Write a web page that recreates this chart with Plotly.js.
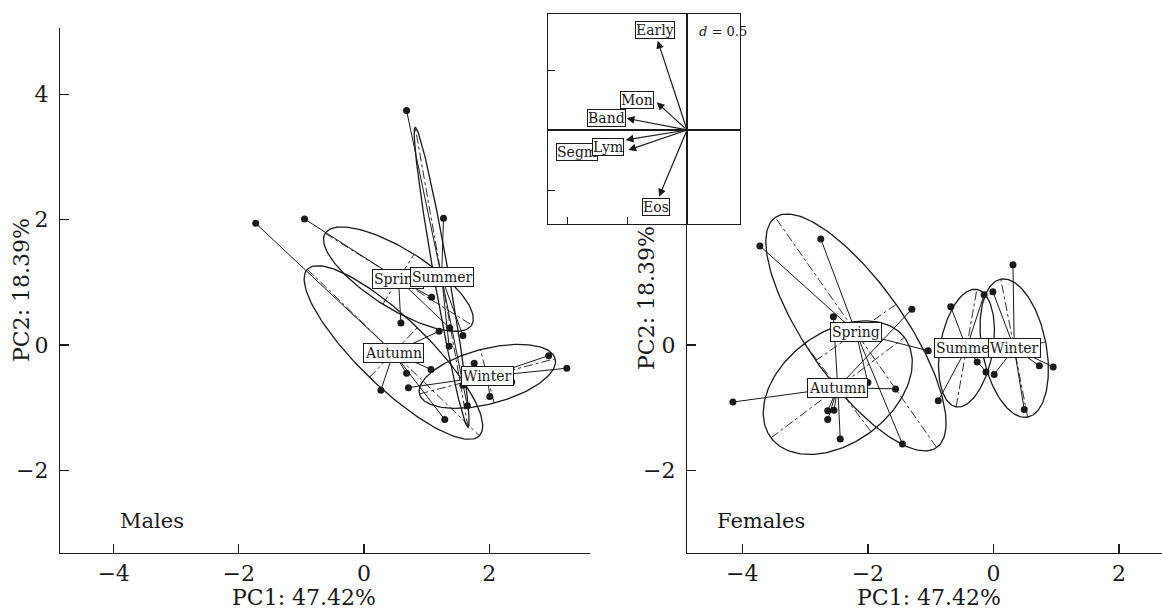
<!DOCTYPE html>
<html><head><meta charset="utf-8">
<script src="https://cdn.plot.ly/plotly-3.0.1.min.js"></script>
<style>html,body{margin:0;padding:0;background:#fff}</style>
</head><body><div id="chart" style="width:1162px;height:610px"></div>
<script>
const seasons = ['Spring', 'Summer', 'Autumn', 'Winter'];

// ---- Males (left panel) ----
const maleX = [-0.95, 1.08, 0.59, 1.37,
               0.68, 1.27, 1.36, 1.58, 1.65,
               -1.73, 0.27, 0.68, 1.07, 1.29, 1.20,
               0.71, 1.76, 1.58, 2.36, 2.01, 2.95, 3.24];
const maleY = [2.01, 0.76, 0.35, 0.27,
               3.74, 2.02, -0.02, 0.15, -0.97,
               1.94, -0.72, -0.45, -0.39, -1.19, 0.22,
               -0.68, -0.29, -0.64, -0.59, -0.82, -0.17, -0.37];
const maleGroup = [0, 0, 0, 0,
                   1, 1, 1, 1, 1,
                   2, 2, 2, 2, 2, 2,
                   3, 3, 3, 3, 3, 3, 3];
const maleCentX = [0.55, 1.24, 0.47, 1.97];
const maleCentY = [1.05, 1.08, -0.12, -0.50];
const maleEllA = [1.38, 2.43, 1.91, 1.12];
const maleEllB = [0.47, 0.12, 0.55, 0.44];
const maleEllAngle = [-32, 100, -44, 14.5];

// ---- Females (right panel) ----
const femX = [-3.72, -2.75, -1.04, -2.00, -1.45,
              -0.68, -0.88, -0.15, -0.26, -0.12,
              -2.55, -1.30, -1.56, -2.64, -2.54, -2.64, -2.44, -4.15,
              -0.01, 0.31, 0.01, 0.73, 0.95, 0.49];
const femY = [1.58, 1.69, -0.09, -0.60, -1.58,
              0.61, -0.89, 0.80, -0.27, -0.43,
              0.45, 0.57, -0.70, -1.05, -1.04, -1.19, -1.50, -0.91,
              0.85, 1.28, -0.47, -0.33, -0.35, -1.03];
const femGroup = [0, 0, 0, 0, 0,
                  1, 1, 1, 1, 1,
                  2, 2, 2, 2, 2, 2, 2, 2,
                  3, 3, 3, 3, 3, 3];
const femCentX = [-2.19, -0.43, -2.48, 0.33];
const femCentY = [0.20, -0.05, -0.68, -0.05];
const femEllA = [2.24, 0.95, 1.33, 1.12];
const femEllB = [0.78, 0.42, 0.88, 0.51];
const femEllAngle = [125, 80, 37, 101];

// ---- Inset: variable arrows (d = 0.5) ----
const varNames = ['Early', 'Mon', 'Band', 'Segm', 'Lym', 'Eos'];
const varX = [-0.244, -0.253, -0.503, -0.489, -0.511, -0.233];
const varY = [0.744, 0.231, 0.097, -0.167, -0.083, -0.556];
const varLabX = [-0.267, -0.414, -0.675, -0.919, -0.661, -0.261];
const varLabY = [0.83, 0.25, 0.097, -0.18, -0.139, -0.644];

const INK = '#1a1a1a';
const FONT = 'DejaVu Serif';

function ellipsePts(cx, cy, a, b, angDeg) {
  const t = angDeg * Math.PI / 180, xs = [], ys = [];
  for (let i = 0; i <= 160; i++) {
    const u = 2 * Math.PI * i / 160;
    const ex = a * Math.cos(u), ey = b * Math.sin(u);
    xs.push(cx + ex * Math.cos(t) - ey * Math.sin(t));
    ys.push(cy + ex * Math.sin(t) + ey * Math.cos(t));
  }
  return [xs, ys];
}

const traces = [];
const annotations = [];

function panel(px, py, grp, cx, cy, ea, eb, eang, xa, ya) {
  const axX = [], axY = [];
  for (let k = 0; k < cx.length; k++) {
    const t = eang[k] * Math.PI / 180;
    axX.push(cx[k] - ea[k] * Math.cos(t), cx[k] + ea[k] * Math.cos(t), null,
             cx[k] + eb[k] * Math.sin(t), cx[k] - eb[k] * Math.sin(t), null);
    axY.push(cy[k] - ea[k] * Math.sin(t), cy[k] + ea[k] * Math.sin(t), null,
             cy[k] - eb[k] * Math.cos(t), cy[k] + eb[k] * Math.cos(t), null);
  }
  traces.push({x: axX, y: axY, xaxis: xa, yaxis: ya, mode: 'lines', hoverinfo: 'skip',
               line: {color: INK, width: 0.9, dash: 'dashdot'}, showlegend: false});
  for (let k = 0; k < cx.length; k++) {
    const [ex, ey] = ellipsePts(cx[k], cy[k], ea[k], eb[k], eang[k]);
    traces.push({x: ex, y: ey, xaxis: xa, yaxis: ya, mode: 'lines', hoverinfo: 'skip',
                 line: {color: INK, width: 1.3}, showlegend: false});
  }
  const sx = [], sy = [];
  for (let i = 0; i < px.length; i++) {
    sx.push(px[i], cx[grp[i]], null);
    sy.push(py[i], cy[grp[i]], null);
  }
  traces.push({x: sx, y: sy, xaxis: xa, yaxis: ya, mode: 'lines', hoverinfo: 'skip',
               line: {color: INK, width: 1}, showlegend: false});
  traces.push({x: px, y: py, xaxis: xa, yaxis: ya, mode: 'markers',
               marker: {color: INK, size: 7}, showlegend: false});
  for (let k = 0; k < cx.length; k++) {
    annotations.push({x: cx[k], y: cy[k], xref: xa, yref: ya, text: seasons[k], showarrow: false,
      font: {family: FONT, size: 14, color: INK}, bgcolor: '#fff', bordercolor: INK,
      borderwidth: 1, borderpad: 1});
  }
}

panel(maleX, maleY, maleGroup, maleCentX, maleCentY, maleEllA, maleEllB, maleEllAngle, 'x', 'y');
panel(femX, femY, femGroup, femCentX, femCentY, femEllA, femEllB, femEllAngle, 'x2', 'y2');

traces.push({x: [0], y: [0], xaxis: 'x3', yaxis: 'y3', mode: 'markers',
             marker: {size: 1, color: 'rgba(0,0,0,0)'}, hoverinfo: 'skip', showlegend: false});

for (let i = 0; i < varNames.length; i++) {
  annotations.push({xref: 'x3', yref: 'y3', axref: 'x3', ayref: 'y3', x: varX[i], y: varY[i],
    ax: 0, ay: 0, text: '', showarrow: true, arrowhead: 2, arrowsize: 1.3, arrowwidth: 1.2,
    arrowcolor: INK, standoff: 0, startstandoff: 0});
}
for (let i = 0; i < varNames.length; i++) {
  annotations.push({xref: 'x3', yref: 'y3', x: varLabX[i], y: varLabY[i], text: varNames[i],
    showarrow: false, font: {family: FONT, size: 14, color: INK}, bgcolor: '#fff',
    bordercolor: INK, borderwidth: 1, borderpad: 0});
}
annotations.push({xref: 'paper', yref: 'paper', x: 697 / 1162, y: (610 - 31) / 610, xanchor: 'left',
  yanchor: 'middle', text: '<i>d</i> = 0.5', showarrow: false, font: {family: FONT, size: 13, color: INK}});

function pa(text, px, py, opts) {
  annotations.push(Object.assign({xref: 'paper', yref: 'paper', x: px / 1162, y: (610 - py) / 610,
    text: text, showarrow: false, font: {family: FONT, size: 22, color: INK}}, opts || {}));
}
pa('Males', 118, 521, {xanchor: 'left', yanchor: 'middle', font: {family: FONT, size: 21, color: INK}});
pa('Females', 715, 521, {xanchor: 'left', yanchor: 'middle', font: {family: FONT, size: 21, color: INK}});
pa('PC1: 47.42%', 304, 597, {xanchor: 'center', yanchor: 'middle'});
pa('PC1: 47.42%', 929, 597, {xanchor: 'center', yanchor: 'middle'});
pa('PC2: 18.39%', 21, 290, {xanchor: 'center', yanchor: 'middle', textangle: -90});
pa('PC2: 18.39%', 646, 298, {xanchor: 'center', yanchor: 'middle', textangle: -90});

const tickFont = {family: FONT, size: 22, color: INK};
function mainAxis(extra) {
  return Object.assign({showgrid: false, zeroline: false, showline: true, linecolor: INK, linewidth: 1.2,
    ticks: 'inside', ticklen: 9, tickwidth: 1.2, tickcolor: INK, tickfont: tickFont,
    fixedrange: true}, extra);
}
const yDom = [(610 - 553) / 610, (610 - 28) / 610];
const yRange = [(345 - 553) / 62.7, (345 - 28) / 62.7];

const layout = {
  width: 1162, height: 610, margin: {l: 0, r: 0, t: 0, b: 0},
  paper_bgcolor: '#fff', plot_bgcolor: '#fff', showlegend: false,
  font: {family: FONT, color: INK},
  xaxis: mainAxis({domain: [60 / 1162, 590 / 1162], range: [(60 - 364) / 62.6, (590 - 364) / 62.6],
    tickvals: [-4, -2, 0, 2], anchor: 'y', ticklabelstandoff: 0}),
  yaxis: mainAxis({domain: yDom, range: yRange, tickvals: [-2, 0, 2, 4], anchor: 'x', ticklabelstandoff: 6}),
  xaxis2: mainAxis({domain: [687 / 1162, 1], range: [(687 - 993.5) / 62.8, (1162 - 993.5) / 62.8],
    tickvals: [-4, -2, 0, 2], anchor: 'y2', ticklabelstandoff: 0}),
  yaxis2: mainAxis({domain: yDom, range: yRange, tickvals: [-2, 0], anchor: 'x2', ticklabelstandoff: 6}),
  xaxis3: {domain: [548 / 1162, 740 / 1162], range: [(548 - 687) / 120, (740 - 687) / 120], anchor: 'y3',
    showgrid: false, zeroline: true, zerolinecolor: INK, zerolinewidth: 1.2, showline: true, mirror: true,
    linecolor: INK, linewidth: 1.2, ticks: 'inside', ticklen: 7, tickcolor: INK, tickvals: [-1, -0.5],
    showticklabels: false, fixedrange: true},
  yaxis3: {domain: [(610 - 224) / 610, (610 - 14) / 610], range: [(130 - 224) / 120, (130 - 14) / 120], anchor: 'x3',
    showgrid: false, zeroline: true, zerolinecolor: INK, zerolinewidth: 1.2, showline: true, mirror: true,
    linecolor: INK, linewidth: 1.2, ticks: 'inside', ticklen: 7, tickcolor: INK, tickvals: [-0.5, 0.5],
    showticklabels: false, fixedrange: true},
  annotations: annotations
};

Plotly.newPlot('chart', traces, layout, {displayModeBar: false, staticPlot: true});
</script></body></html>
